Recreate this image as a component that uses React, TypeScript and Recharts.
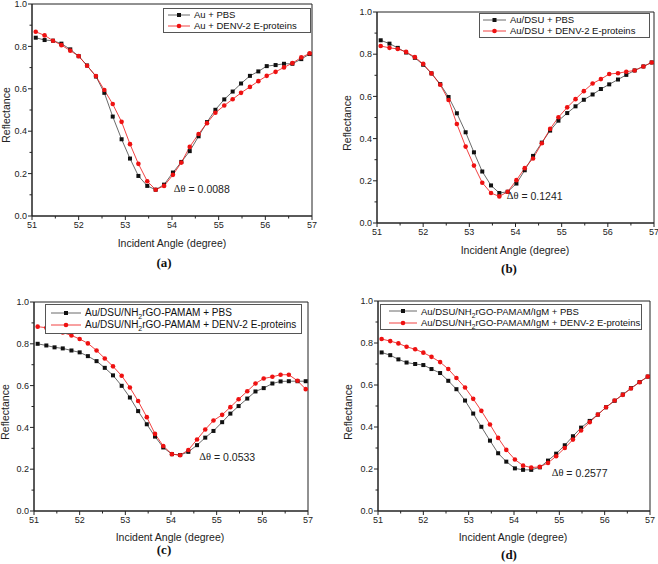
import React from "react";
import {
  LineChart,
  Line,
  XAxis,
  YAxis,
  ReferenceArea,
  ReferenceDot,
} from "recharts";

// incident angles (degree), same for every panel
const angles = [
  51.08, 51.27, 51.45, 51.63, 51.82, 52.0, 52.18, 52.37, 52.55, 52.73, 52.92,
  53.1, 53.28, 53.47, 53.65, 53.83, 54.02, 54.2, 54.38, 54.57, 54.75, 54.93,
  55.12, 55.3, 55.48, 55.67, 55.85, 56.03, 56.22, 56.4, 56.58, 56.77, 56.95,
];

// (a) Au
const auPbs = [
  0.841, 0.83, 0.827, 0.813, 0.786, 0.754, 0.71, 0.658, 0.581, 0.469, 0.362,
  0.271, 0.189, 0.142, 0.124, 0.148, 0.205, 0.255, 0.306, 0.376, 0.443, 0.501,
  0.55, 0.587, 0.625, 0.661, 0.682, 0.707, 0.712, 0.718, 0.718, 0.74, 0.764,
];
const auDenv = [
  0.869, 0.852, 0.827, 0.806, 0.78, 0.754, 0.709, 0.66, 0.594, 0.528, 0.444,
  0.339, 0.246, 0.164, 0.124, 0.142, 0.194, 0.252, 0.326, 0.387, 0.438, 0.487,
  0.521, 0.551, 0.581, 0.609, 0.636, 0.661, 0.68, 0.701, 0.721, 0.748, 0.767,
];

// (b) Au/DSU
const dsuPbs = [
  0.866, 0.85, 0.83, 0.808, 0.783, 0.75, 0.709, 0.658, 0.597, 0.52, 0.43,
  0.335, 0.244, 0.178, 0.142, 0.148, 0.187, 0.25, 0.318, 0.381, 0.438, 0.485,
  0.521, 0.553, 0.584, 0.609, 0.635, 0.657, 0.68, 0.702, 0.723, 0.742, 0.761,
];
const dsuDenv = [
  0.839, 0.83, 0.825, 0.811, 0.786, 0.754, 0.709, 0.655, 0.583, 0.469, 0.362,
  0.272, 0.191, 0.142, 0.126, 0.148, 0.203, 0.26, 0.306, 0.378, 0.446, 0.501,
  0.548, 0.587, 0.625, 0.661, 0.682, 0.706, 0.71, 0.717, 0.723, 0.742, 0.761,
];

// (c) Au/DSU/NH2rGO-PAMAM
const rgoPbs = [
  0.8, 0.792, 0.783, 0.778, 0.768, 0.759, 0.741, 0.717, 0.685, 0.649, 0.599,
  0.543, 0.478, 0.415, 0.356, 0.304, 0.272, 0.268, 0.283, 0.315, 0.351, 0.383,
  0.425, 0.466, 0.502, 0.538, 0.572, 0.588, 0.61, 0.62, 0.621, 0.621, 0.621,
];
const rgoDenv = [
  0.882, 0.877, 0.867, 0.854, 0.84, 0.823, 0.802, 0.768, 0.73, 0.692, 0.647,
  0.591, 0.526, 0.449, 0.369, 0.311, 0.272, 0.267, 0.292, 0.342, 0.39, 0.433,
  0.46, 0.497, 0.535, 0.573, 0.61, 0.634, 0.642, 0.652, 0.652, 0.623, 0.583,
];

// (d) Au/DSU/NH2rGO-PAMAM/IgM
const igmPbs = [
  0.755, 0.742, 0.722, 0.707, 0.7, 0.695, 0.676, 0.657, 0.62, 0.58, 0.526,
  0.464, 0.401, 0.335, 0.275, 0.235, 0.203, 0.196, 0.196, 0.208, 0.24, 0.273,
  0.313, 0.356, 0.397, 0.429, 0.459, 0.494, 0.525, 0.555, 0.585, 0.614, 0.64,
];
const igmDenv = [
  0.819, 0.809, 0.798, 0.782, 0.77, 0.754, 0.734, 0.709, 0.676, 0.633, 0.588,
  0.534, 0.477, 0.412, 0.348, 0.291, 0.245, 0.216, 0.207, 0.21, 0.229, 0.261,
  0.3, 0.34, 0.383, 0.423, 0.459, 0.494, 0.526, 0.553, 0.583, 0.613, 0.64,
];

const xTicks = [51, 51.5, 52, 52.5, 53, 53.5, 54, 54.5, 55, 55.5, 56, 56.5, 57];
const yTicks = [0, 0.1, 0.2, 0.3, 0.4, 0.5, 0.6, 0.7, 0.8, 0.9, 1.0];

const SANS = "'Liberation Sans', Arial, sans-serif";
const SERIF = "'Liberation Serif', 'Times New Roman', serif";

const panels = [
  {
    letter: "(a)",
    box: { x: 0, y: 0, w: 329, h: 282 },
    plot: { l: 32, t: 4, r: 312, b: 216 },
    names: ["Au + PBS", "Au + DENV-2 E-proteins"],
    pbs: auPbs,
    denv: auDenv,
    delta: { text: "0.0088", x: 54.04, y: 0.125 },
    legend: { l: 163, t: 8, w: 148, h: 25, sample: 22, pad: 4, font: 9.5 },
    xTitle: { x: 172, y: 242.5 },
    yTitle: { x: 6, y: 115 },
    tag: { x: 164, y: 263 },
  },
  {
    letter: "(b)",
    box: { x: 329, y: 0, w: 329, h: 282 },
    plot: { l: 377, t: 12, r: 654, b: 223 },
    names: ["Au/DSU + PBS", "Au/DSU + DENV-2 E-proteins"],
    pbs: dsuPbs,
    denv: dsuDenv,
    delta: { text: "0.1241", x: 53.81, y: 0.125 },
    legend: { l: 479, t: 13, w: 171, h: 25, sample: 23, pad: 3, font: 9.5 },
    xTitle: { x: 515, y: 250 },
    yTitle: { x: 347, y: 123 },
    tag: { x: 509, y: 269 },
  },
  {
    letter: "(c)",
    box: { x: 0, y: 282, w: 329, h: 282 },
    plot: { l: 34, t: 302, r: 308, b: 511 },
    names: ["Au/DSU/NH2rGO-PAMAM + PBS", "Au/DSU/NH2rGO-PAMAM + DENV-2 E-proteins"],
    pbs: rgoPbs,
    denv: rgoDenv,
    delta: { text: "0.0533", x: 54.62, y: 0.255 },
    legend: { l: 45, t: 304, w: 257, h: 30, sample: 30, pad: 5, font: 10 },
    xTitle: { x: 170, y: 537 },
    yTitle: { x: 5, y: 412 },
    tag: { x: 164, y: 550 },
  },
  {
    letter: "(d)",
    box: { x: 329, y: 282, w: 329, h: 282 },
    plot: { l: 378, t: 301, r: 650, b: 511 },
    names: [
      "Au/DSU/NH2rGO-PAMAM/IgM + PBS",
      "Au/DSU/NH2rGO-PAMAM/IgM + DENV-2 E-proteins",
    ],
    pbs: igmPbs,
    denv: igmDenv,
    delta: { text: "0.2577", x: 54.83, y: 0.178 },
    legend: { l: 380, t: 304, w: 262, h: 26, sample: 28, pad: 8, font: 9.5 },
    xTitle: { x: 513, y: 537 },
    yTitle: { x: 348, y: 412 },
    tag: { x: 509, y: 555 },
  },
];

const BLACK = "#111";
const RED = "#ee1111";
const AXIS = "#222";
const TICK_GAP = 6; // tickSize + tickMargin used by both axes

function withSub(name: string) {
  const i = name.indexOf("NH2");
  if (i < 0) return name;
  return (
    <>
      {name.slice(0, i)}NH<sub style={{ fontSize: "0.7em", lineHeight: 0 }}>2</sub>
      {name.slice(i + 3)}
    </>
  );
}

// ticks drawn by hand so minor ticks can be shorter
const XTick = (p: any) => {
  const v = p.payload.value;
  const major = Number.isInteger(v);
  const axisY = p.y - TICK_GAP;
  return (
    <g>
      <line x1={p.x} x2={p.x} y1={axisY} y2={axisY + (major ? 4 : 2.5)} stroke={AXIS} />
      {major && (
        <text x={p.x} y={p.y} dy="0.71em" textAnchor="middle" fontSize={9} fill={AXIS} fontFamily={SANS}>
          {v}
        </text>
      )}
    </g>
  );
};

const YTick = (p: any) => {
  const v = p.payload.value;
  const major = Math.round(v * 10) % 2 === 0;
  const axisX = p.x + TICK_GAP;
  return (
    <g>
      <line x1={axisX} x2={axisX - (major ? 4 : 2.5)} y1={p.y} y2={p.y} stroke={AXIS} />
      {major && (
        <text x={p.x + 1} y={p.y} dy="0.35em" textAnchor="end" fontSize={9} fill={AXIS} fontFamily={SANS}>
          {v.toFixed(1)}
        </text>
      )}
    </g>
  );
};

const squareDot = (p: any) => (
  <rect key={"s" + p.index} x={p.cx - 2} y={p.cy - 2} width={4} height={4} fill={BLACK} />
);
const circleDot = (p: any) => (
  <circle key={"c" + p.index} cx={p.cx} cy={p.cy} r={2.3} fill={RED} />
);

function Sample({ w, kind }: { w: number; kind: "sq" | "ci" }) {
  return (
    <svg width={w} height={8} style={{ display: "block", flex: "none" }}>
      <line x1={0} y1={4} x2={w} y2={4} stroke={kind === "sq" ? "#444" : RED} strokeWidth={0.8} />
      {kind === "sq" ? (
        <rect x={w / 2 - 2} y={2} width={4} height={4} fill={BLACK} />
      ) : (
        <circle cx={w / 2} cy={4} r={2.3} fill={RED} />
      )}
    </svg>
  );
}

function Panel({ cfg }: { cfg: (typeof panels)[number] }) {
  const { box, plot, legend } = cfg;
  const yAxisW = 30;
  const xAxisH = 24;
  const margin = {
    top: plot.t - box.y,
    right: box.x + box.w - plot.r,
    left: plot.l - box.x - yAxisW,
    bottom: box.y + box.h - plot.b - xAxisH,
  };
  const rows = angles.map((a, i) => ({ x: a, pbs: cfg.pbs[i], denv: cfg.denv[i] }));

  return (
    <div style={{ position: "absolute", left: box.x, top: box.y, width: box.w, height: box.h }}>
      <LineChart width={box.w} height={box.h} data={rows} margin={margin}>
        <XAxis
          dataKey="x"
          type="number"
          domain={[51, 57]}
          ticks={xTicks}
          interval={0}
          allowDataOverflow
          height={xAxisH}
          tickSize={4}
          tickMargin={2}
          tickLine={false}
          stroke={AXIS}
          tick={XTick}
        />
        <YAxis
          type="number"
          domain={[0, 1]}
          ticks={yTicks}
          interval={0}
          allowDataOverflow
          width={yAxisW}
          tickSize={4}
          tickMargin={2}
          tickLine={false}
          stroke={AXIS}
          tick={YTick}
        />
        <ReferenceArea x1={51} x2={57} y1={0} y2={1} fill="none" stroke={AXIS} strokeWidth={1} />
        <Line
          dataKey="pbs"
          type="linear"
          stroke="#444"
          strokeWidth={0.8}
          dot={squareDot}
          activeDot={false}
          isAnimationActive={false}
        />
        <Line
          dataKey="denv"
          type="linear"
          stroke={RED}
          strokeWidth={0.8}
          dot={circleDot}
          activeDot={false}
          isAnimationActive={false}
        />
        <ReferenceDot
          x={cfg.delta.x}
          y={cfg.delta.y}
          r={0}
          shape={(p: any) => (
            <text x={p.cx} y={p.cy} dominantBaseline="middle" fontSize={10.5} fill={AXIS}>
              <tspan fontFamily={SERIF}>Δθ</tspan>
              <tspan fontFamily={SANS}>{" = " + cfg.delta.text}</tspan>
            </text>
          )}
        />
      </LineChart>

      <div
        style={{
          position: "absolute",
          left: legend.l - box.x,
          top: legend.t - box.y,
          width: legend.w,
          height: legend.h,
          boxSizing: "border-box",
          border: "1px solid #555",
          background: "#fff",
          display: "flex",
          flexDirection: "column",
          justifyContent: "space-evenly",
          paddingLeft: legend.pad,
          fontFamily: SANS,
          fontSize: legend.font,
          color: "#111",
        }}
      >
        {cfg.names.map((n, i) => (
          <div key={n} style={{ display: "flex", alignItems: "center", lineHeight: 1, whiteSpace: "nowrap" }}>
            <Sample w={legend.sample} kind={i === 0 ? "sq" : "ci"} />
            <span style={{ marginLeft: 4 }}>{withSub(n)}</span>
          </div>
        ))}
      </div>

      <div
        style={{
          position: "absolute",
          left: cfg.xTitle.x - box.x - 100,
          top: cfg.xTitle.y - box.y - 7,
          width: 200,
          textAlign: "center",
          fontFamily: SANS,
          fontSize: 10.5,
          lineHeight: "14px",
          color: AXIS,
        }}
      >
        Incident Angle (degree)
      </div>
      <div
        style={{
          position: "absolute",
          left: cfg.yTitle.x - box.x,
          top: cfg.yTitle.y - box.y,
          transform: "translate(-50%, -50%) rotate(-90deg)",
          fontFamily: SANS,
          fontSize: 10.5,
          lineHeight: "14px",
          color: AXIS,
          whiteSpace: "nowrap",
        }}
      >
        Reflectance
      </div>
      <div
        style={{
          position: "absolute",
          left: cfg.tag.x - box.x - 30,
          top: cfg.tag.y - box.y - 8,
          width: 60,
          textAlign: "center",
          fontFamily: SERIF,
          fontWeight: "bold",
          fontSize: 13,
          lineHeight: "16px",
          color: "#111",
        }}
      >
        {cfg.letter}
      </div>
    </div>
  );
}

export default function App() {
  return (
    <div
      style={{
        position: "absolute",
        left: 0,
        top: 0,
        width: 658,
        height: 564,
        background: "#fff",
        overflow: "hidden",
      }}
    >
      {panels.map((p) => (
        <Panel key={p.letter} cfg={p} />
      ))}
    </div>
  );
}
